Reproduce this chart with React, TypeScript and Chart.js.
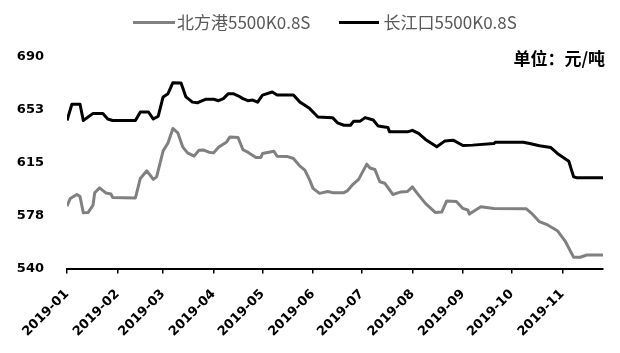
import React, { useEffect, useRef } from "react";
import { Chart, registerables } from "chart.js";

Chart.register(...registerables);

// Month tick labels on the x axis
const monthLabels = ["2019-01", "2019-02", "2019-03", "2019-04", "2019-05", "2019-06", "2019-07", "2019-08", "2019-09", "2019-10", "2019-11"];
const axisEndDate = "11-26";

// Y axis ticks
const yMin = 540;
const yMax = 690;
const yStep = 37.5;

// 北方港5500K0.8S
const bfgName = "北方港5500K0.8S";
const bfgDates = ["01-01", "01-03", "01-07", "01-09", "01-11", "01-14", "01-17", "01-18", "01-21", "01-25", "01-28", "01-29", "02-12", "02-15", "02-19", "02-23", "02-25", "03-01", "03-04", "03-07", "03-10", "03-13", "03-16", "03-20", "03-23", "03-26", "03-29", "04-01", "04-04", "04-09", "04-11", "04-16", "04-19", "04-22", "04-27", "04-30", "05-01", "05-08", "05-10", "05-16", "05-20", "05-24", "05-27", "05-30", "06-01", "06-05", "06-10", "06-13", "06-20", "06-22", "06-25", "06-29", "07-04", "07-06", "07-09", "07-12", "07-15", "07-20", "07-25", "07-29", "08-01", "08-04", "08-09", "08-15", "08-19", "08-22", "08-28", "09-01", "09-04", "09-05", "09-12", "09-20", "10-10", "10-13", "10-18", "10-23", "10-29", "11-03", "11-08", "11-12", "11-16", "11-26"];
const bfgValues = [584.3, 589.7, 592.5, 591, 579.5, 579.8, 585, 593.7, 597.2, 593.5, 592.8, 590.4, 590, 603.9, 609.3, 603.2, 605, 623.4, 629, 639.3, 636.2, 626.3, 622, 619.7, 623.9, 624, 622.5, 622, 626, 629.8, 633.3, 632.9, 624.2, 622.5, 618.7, 618.7, 621.5, 623.2, 619.6, 619.5, 618, 612.6, 609.8, 602.7, 596.8, 593.3, 594.6, 593.8, 593.8, 595, 599.1, 603.2, 614, 611.3, 610.2, 601.5, 600.5, 592.5, 594.3, 594.6, 597.9, 593.3, 586.2, 579.8, 580, 587.8, 587.5, 582.6, 581.5, 578.6, 583.8, 582.6, 582.3, 579.3, 573.2, 570.9, 566.8, 559, 547.9, 548, 549.6, 549.6];

// 长江口5500K0.8S
const cjkName = "长江口5500K0.8S";
const cjkDates = ["01-01", "01-04", "01-09", "01-11", "01-17", "01-23", "01-26", "01-29", "02-12", "02-15", "02-20", "02-23", "02-26", "03-01", "03-04", "03-07", "03-12", "03-15", "03-19", "03-22", "03-24", "03-27", "04-01", "04-04", "04-07", "04-10", "04-13", "04-16", "04-19", "04-22", "04-25", "04-28", "05-01", "05-07", "05-10", "05-20", "05-24", "05-27", "05-30", "06-04", "06-13", "06-16", "06-20", "06-24", "06-26", "06-30", "07-03", "07-08", "07-11", "07-17", "07-18", "07-29", "08-01", "08-05", "08-09", "08-16", "08-21", "08-26", "09-01", "09-07", "09-20", "09-21", "10-08", "10-12", "10-18", "10-25", "10-29", "11-05", "11-08", "11-10", "11-26"];
const cjkValues = [645, 656.5, 656.5, 645, 650, 650, 646, 645, 645, 651, 651, 646, 648, 661.7, 664, 671.8, 671.5, 661.7, 658, 657.5, 658.6, 660, 660, 659, 660.5, 664, 664, 662.5, 660.5, 659, 659.5, 658, 663, 665.2, 663, 663, 658, 655.8, 653.4, 647.5, 647, 643.3, 641.6, 641.6, 644.5, 644.5, 647, 645.3, 641, 640, 636.9, 636.9, 638, 635.7, 631.5, 626.3, 630.5, 631, 627.2, 627.5, 628.6, 629.6, 629.6, 628.6, 627, 625.8, 621.6, 616.1, 605, 604.4, 604.4];

const unitText = "单位：元/吨";

const bfgColor = "#808080";
const cjkColor = "#000000";

const dayOf = (md: string) => {
  const [m, d] = md.split("-").map(Number);
  return (Date.UTC(2019, m - 1, d) - Date.UTC(2019, 0, 1)) / 86400000;
};
const toPoints = (dates: string[], values: number[]) => dates.map((d, i) => ({ x: dayOf(d), y: values[i] }));
const monthTicks = monthLabels.map((l) => dayOf(l.slice(5) + "-01"));

const tickFont = { family: "DejaVu Sans", size: 13, weight: "bold" as const };

export default function App() {
  const canvasRef = useRef<HTMLCanvasElement | null>(null);

  useEffect(() => {
    document.body.style.margin = "0";
    const ctx = canvasRef.current;
    if (!ctx) return;
    const chart = new Chart(ctx, {
      type: "line",
      data: {
        datasets: [
          {
            label: bfgName,
            data: toPoints(bfgDates, bfgValues),
            borderColor: bfgColor,
            backgroundColor: bfgColor,
            borderWidth: 3,
            pointRadius: 0,
            tension: 0,
            borderJoinStyle: "round",
          },
          {
            label: cjkName,
            data: toPoints(cjkDates, cjkValues),
            borderColor: cjkColor,
            backgroundColor: cjkColor,
            borderWidth: 3,
            pointRadius: 0,
            tension: 0,
            borderJoinStyle: "round",
          },
        ],
      },
      options: {
        animation: false,
        responsive: false,
        maintainAspectRatio: false,
        layout: { padding: { left: 0, right: 17, top: 57, bottom: 0 } },
        plugins: {
          legend: { display: false },
          tooltip: { enabled: false },
          title: { display: false },
        },
        scales: {
          x: {
            type: "linear",
            min: 0,
            max: dayOf(axisEndDate),
            afterBuildTicks: (scale: any) => {
              scale.ticks = monthTicks.map((v) => ({ value: v }));
            },
            afterFit: (scale: any) => {
              scale.height = 84.5;
            },
            grid: {
              display: true,
              drawOnChartArea: false,
              drawTicks: true,
              tickLength: 5,
              color: "#000",
              lineWidth: 1.5,
            },
            border: { display: true, color: "#000", width: 2 },
            ticks: {
              autoSkip: false,
              minRotation: 45,
              maxRotation: 45,
              padding: 13,
              color: "#000",
              font: tickFont,
              callback: (value: any) => {
                const i = monthTicks.indexOf(Number(value));
                return i >= 0 ? monthLabels[i] : "";
              },
            },
          },
          y: {
            min: yMin,
            max: yMax,
            afterFit: (scale: any) => {
              scale.width = 67;
            },
            grid: { display: false, drawTicks: false },
            border: { display: false },
            ticks: {
              stepSize: yStep,
              padding: 23,
              color: "#000",
              font: tickFont,
              callback: (value: any) => String(Math.round(Number(value))),
            },
          },
        },
      },
    });
    return () => chart.destroy();
  }, []);

  const legendItems = [
    { name: bfgName, color: bfgColor, width: 42, gap: 2, ml: 0 },
    { name: cjkName, color: cjkColor, width: 40, gap: 4, ml: 29 },
  ];

  return (
    <div style={{ position: "relative", width: 620, height: 353, background: "#fff" }}>
      <canvas ref={canvasRef} width={620} height={353} style={{ position: "absolute", left: 0, top: 0 }} />
      <div
        style={{
          position: "absolute",
          left: 133,
          top: 10,
          height: 24,
          display: "flex",
          alignItems: "center",
          fontFamily: "'Noto Sans CJK SC', 'Noto Sans', sans-serif",
          fontSize: 17,
          color: "#595959",
          whiteSpace: "nowrap",
        }}
      >
        {legendItems.map((it) => (
          <div key={it.name} style={{ display: "flex", alignItems: "center", marginLeft: it.ml }}>
            <span style={{ display: "inline-block", width: it.width, height: 3, background: it.color }} />
            <span style={{ marginLeft: it.gap, lineHeight: "24px" }}>{it.name}</span>
          </div>
        ))}
      </div>
      <div
        style={{
          position: "absolute",
          right: 15,
          top: 47,
          lineHeight: "22px",
          fontFamily: "'Noto Sans CJK SC', sans-serif",
          fontWeight: "bold",
          fontSize: 17,
          color: "#000",
          whiteSpace: "nowrap",
        }}
      >
        {unitText}
      </div>
    </div>
  );
}
